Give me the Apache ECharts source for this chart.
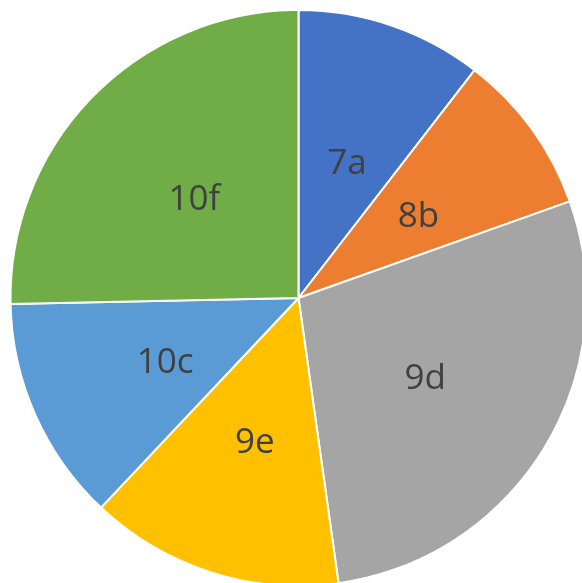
<!DOCTYPE html>
<html>
<head>
<meta charset="utf-8">
<script src="https://cdn.jsdelivr.net/npm/echarts@6/dist/echarts.min.js"></script>
<style>
  html, body { margin: 0; padding: 0; background: #fff; }
  #chart { width: 582px; height: 583px; }
</style>
</head>
<body>
<div id="chart"></div>
<script>
// 扇区名称（顺时针，从12点方向开始）
const labels = ['7a', '8b', '9d', '9e', '10c', '10f'];
// 扇区大小（按图中角度估算）
const values = [37.7, 32.7, 101.6, 51.3, 45.5, 91.2];
const colors = ['#4472C4', '#ED7D31', '#A5A5A5', '#FFC000', '#5B9BD5', '#70AD47'];

const chart = echarts.init(document.getElementById('chart'));

const option = {
    animation: false,
    series: [
        {
            type: 'pie',
            center: [298.5, 298],
            radius: 288,
            startAngle: 90,
            clockwise: true,
            avoidLabelOverlap: false,
            data: labels.map((name, i) => ({
                name: name,
                value: values[i],
                itemStyle: { color: colors[i] }
            })),
            itemStyle: {
                borderColor: '#ffffff',
                borderWidth: 2
            },
            label: {
                show: true,
                position: 'inside',
                formatter: '{b}',
                fontSize: 35,
                fontFamily: 'Open Sans',
                color: '#404040',
                offset: [1, 5]
            },
            labelLine: { show: false },
            emphasis: { disabled: true }
        }
    ]
};

chart.setOption(option);
</script>
</body>
</html>
